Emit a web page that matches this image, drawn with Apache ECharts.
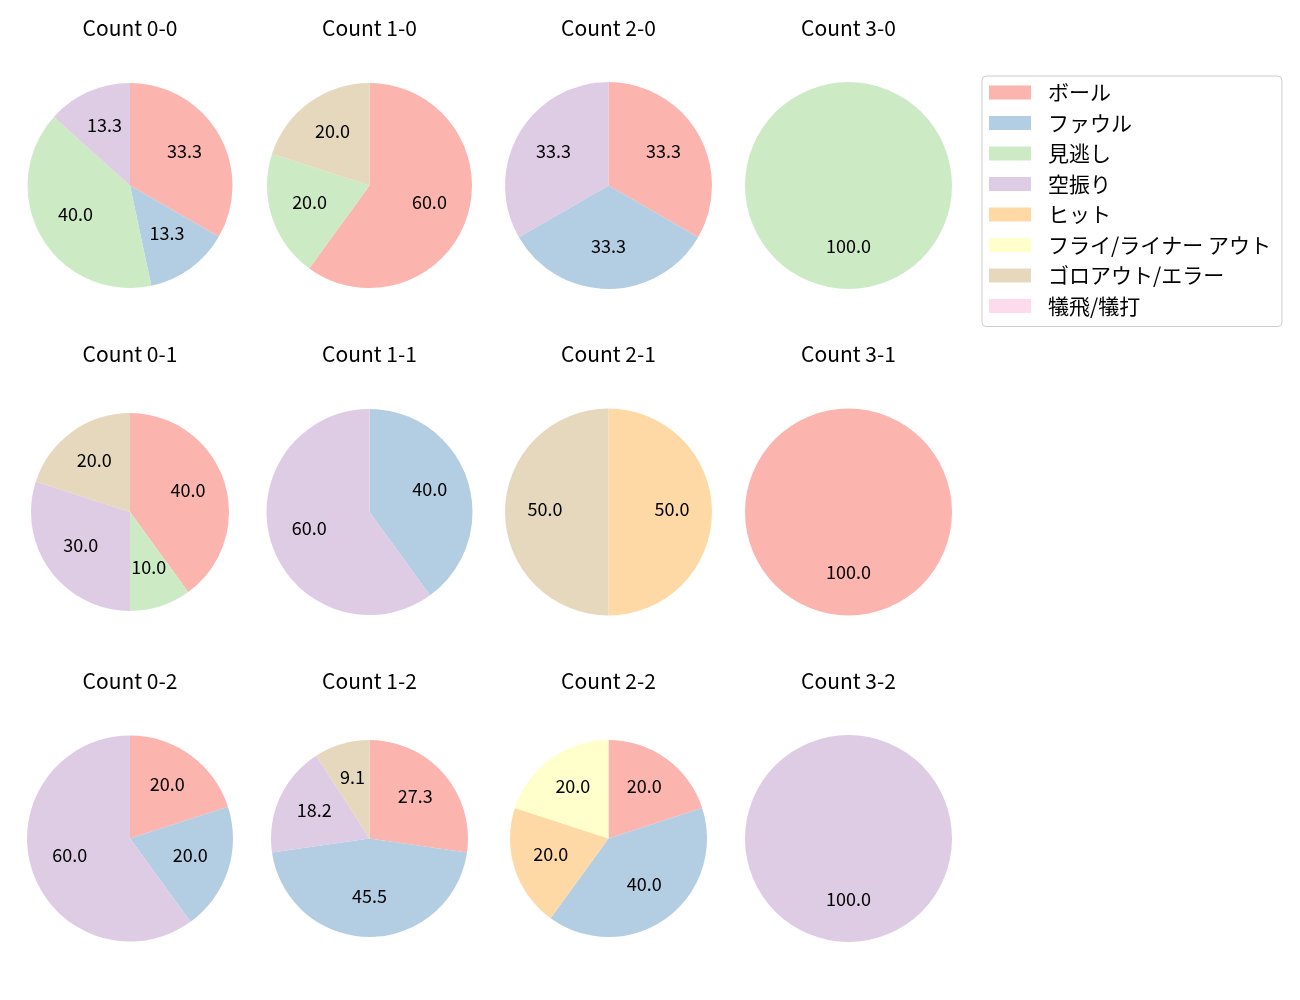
<!DOCTYPE html>
<html>
<head>
<meta charset="utf-8">
<script src="https://cdn.jsdelivr.net/npm/echarts@6/dist/echarts.min.js"></script>
<style>
  html, body { margin: 0; padding: 0; background: #fff; }
  #main { width: 1300px; height: 1000px; }
</style>
</head>
<body>
<div id="main"></div>
<script>
// outcome categories, same order as the legend
var categories = ['ボール', 'ファウル', '見逃し', '空振り', 'ヒット', 'フライ/ライナー アウト', 'ゴロアウト/エラー', '犠飛/犠打'];
var colors = ['#fbb4ae', '#b3cde3', '#ccebc5', '#decbe4', '#fed9a6', '#ffffcc', '#e5d8bd', '#fddaec'];

// pitch counts per ball-strike count
var counts = ['0-0', '1-0', '2-0', '3-0', '0-1', '1-1', '2-1', '3-1', '0-2', '1-2', '2-2', '3-2'];
var c00 = [5, 2, 6, 2, 0, 0, 0, 0];
var c10 = [3, 0, 1, 0, 0, 0, 1, 0];
var c20 = [1, 1, 0, 1, 0, 0, 0, 0];
var c30 = [0, 0, 1, 0, 0, 0, 0, 0];
var c01 = [4, 0, 1, 3, 0, 0, 2, 0];
var c11 = [0, 2, 0, 3, 0, 0, 0, 0];
var c21 = [0, 0, 0, 0, 1, 0, 1, 0];
var c31 = [1, 0, 0, 0, 0, 0, 0, 0];
var c02 = [1, 1, 0, 3, 0, 0, 0, 0];
var c12 = [3, 5, 0, 2, 0, 0, 1, 0];
var c22 = [1, 2, 0, 0, 1, 1, 0, 0];
var c32 = [0, 0, 0, 1, 0, 0, 0, 0];
var values = [c00, c10, c20, c30, c01, c11, c21, c31, c02, c12, c22, c32];

var colX = [130, 369.5, 608.5, 848.5];
var rowY = [185.5, 512, 838.5];
var radii = [102.5, 102.5, 103.5, 103.5, 99, 103, 103.5, 103.5, 103, 98.5, 98.5, 103.5];

var chart = echarts.init(document.getElementById('main'));
var font = '"Noto Sans CJK JP", "Noto Sans", sans-serif';

var titles = [];
var realSeries = [];
var labelSeries = [];

counts.forEach(function (c, i) {
    var cx = colX[i % 4];
    var cy = rowY[Math.floor(i / 4)];
    var r = radii[i];
    var vals = values[i];
    var total = vals.reduce(function (a, b) { return a + b; }, 0);

    titles.push({
        text: 'Count ' + c,
        left: cx,
        top: cy - 168,
        padding: 0,
        textAlign: 'center',
        textStyle: { fontFamily: font, fontSize: 21, fontWeight: 'normal', color: '#000' }
    });

    var data = categories.map(function (name, k) {
        return { name: name, value: vals[k], itemStyle: { color: colors[k] } };
    });
    realSeries.push({
        type: 'pie',
        center: [cx, cy],
        radius: [0, r],
        startAngle: 90,
        clockwise: true,
        avoidLabelOverlap: false,
        label: { show: false },
        labelLine: { show: false },
        itemStyle: { borderWidth: 0 },
        emphasis: { disabled: true },
        animation: false,
        data: data
    });

    // transparent ring so labels sit near 0.6 of the radius
    var ldata = categories.map(function (name, k) {
        return {
            name: name,
            value: vals[k],
            label: { show: vals[k] > 0 }
        };
    });
    labelSeries.push({
        type: 'pie',
        center: [cx, cy],
        radius: [r * 0.17, r],
        startAngle: 90,
        clockwise: true,
        silent: true,
        legendHoverLink: false,
        avoidLabelOverlap: false,
        itemStyle: { color: 'rgba(0,0,0,0)', borderWidth: 0 },
        labelLine: { show: false },
        label: {
            position: 'inside',
            offset: [0, -3],
            fontFamily: font,
            fontSize: 18,
            color: '#000',
            formatter: function (p) {
                return (p.value / total * 100).toFixed(1);
            }
        },
        emphasis: { disabled: true },
        animation: false,
        data: ldata
    });
});

var option = {
    backgroundColor: '#fff',
    title: titles,
    legend: {
        orient: 'vertical',
        left: 982,
        top: 76,
        data: categories,
        icon: 'rect',
        itemWidth: 42,
        itemHeight: 14,
        itemGap: 9.5,
        padding: [6, 11, 10, 7],
        borderColor: '#cccccc',
        borderWidth: 1,
        borderRadius: 4,
        selectedMode: false,
        textStyle: {
            fontFamily: font,
            fontSize: 21,
            lineHeight: 21,
            color: '#000',
            padding: [0, 0, 0, 12]
        }
    },
    series: realSeries.concat(labelSeries)
};

chart.setOption(option);
</script>
</body>
</html>
